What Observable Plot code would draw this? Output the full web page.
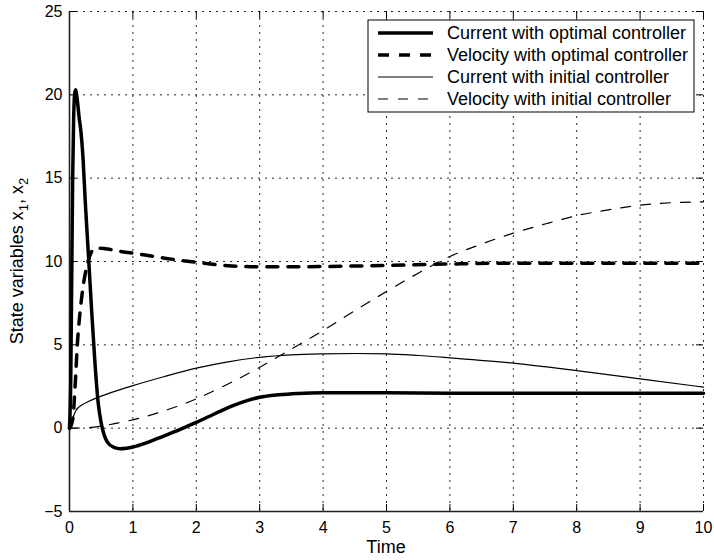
<!DOCTYPE html>
<html><head><meta charset="utf-8">
<script src="https://cdn.jsdelivr.net/npm/d3@7"></script>
<script src="https://cdn.jsdelivr.net/npm/@observablehq/plot@0.6"></script>
<style>
body{margin:0;background:#fff;}
#chart svg{display:block;}
</style></head><body><div id="chart"></div>
<script>
// ---- data ----
const timeCurOpt = [0, 0.02, 0.035, 0.05, 0.065, 0.08, 0.095, 0.12, 0.15, 0.18, 0.21, 0.25, 0.3, 0.35, 0.4, 0.45, 0.5, 0.55, 0.6, 0.7, 0.8, 0.9, 1.0, 1.2, 1.4, 1.6, 1.8, 2.0, 2.2, 2.4, 2.6, 2.8, 3.0, 3.3, 3.6, 4.0, 5, 6, 7, 8, 9, 10];
const curOpt     = [0, 3, 9, 15, 18.5, 20, 20.3, 19.8, 18.7, 17.8, 16.4, 13.5, 10.3, 7.0, 4.0, 1.6, 0.3, -0.45, -0.85, -1.15, -1.23, -1.2, -1.13, -0.9, -0.6, -0.3, 0.02, 0.35, 0.7, 1.05, 1.38, 1.65, 1.85, 2.0, 2.08, 2.12, 2.12, 2.1, 2.1, 2.1, 2.1, 2.1];

const timeVelOpt = [0, 0.03, 0.06, 0.08, 0.1, 0.12, 0.15, 0.2, 0.25, 0.3, 0.35, 0.4, 0.5, 0.6, 0.8, 1.0, 1.5, 2.0, 2.5, 3.0, 3.5, 4, 5, 6, 7, 8, 9, 10];
const velOpt     = [0, 0.2, 0.8, 2.0, 3.3, 4.8, 6.3, 8.1, 9.3, 10.1, 10.6, 10.8, 10.8, 10.75, 10.6, 10.5, 10.2, 9.95, 9.75, 9.68, 9.68, 9.7, 9.76, 9.85, 9.9, 9.9, 9.9, 9.9];

const timeCurIni = [0, 0.02, 0.05, 0.1, 0.2, 0.3, 0.4, 0.5, 0.75, 1, 1.5, 2, 2.5, 3, 3.5, 4, 4.5, 5, 5.5, 6, 7, 8, 9, 10];
const curIni     = [0, 0.3, 0.6, 1.05, 1.4, 1.6, 1.77, 1.92, 2.25, 2.55, 3.1, 3.6, 3.98, 4.25, 4.4, 4.46, 4.48, 4.46, 4.36, 4.22, 3.9, 3.45, 2.96, 2.46];

const timeVelIni = [0, 0.25, 0.5, 0.75, 1, 1.25, 1.5, 1.75, 2, 2.5, 3, 3.5, 4, 4.5, 5, 5.5, 6, 6.5, 7, 7.5, 8, 8.5, 9, 9.5, 10];
const velIni     = [0, 0.02, 0.12, 0.3, 0.5, 0.75, 1.05, 1.38, 1.76, 2.65, 3.65, 4.75, 5.86, 7.05, 8.2, 9.3, 10.3, 11.05, 11.7, 12.25, 12.75, 13.1, 13.38, 13.53, 13.58];

const xTicks = [0, 1, 2, 3, 4, 5, 6, 7, 8, 9, 10];
const yTicks = [-5, 0, 5, 10, 15, 20, 25];
const seriesNames = ["Current with optimal controller", "Velocity with optimal controller", "Current with initial controller", "Velocity with initial controller"];
const xLabel = "Time";

// ---- styles ----
const W = 714, H = 560, ML = 69, MR = 11, MT = 11, MB = 49;
const FW = W - ML - MR, FH = H - MT - MB, TICK = 7;
const FONT = "'Liberation Sans', Arial, Helvetica, sans-serif";
const styles = [
  {strokeWidth: 3.5, dash: null},
  {strokeWidth: 3.5, dash: "11,10"},
  {strokeWidth: 1.2, dash: null},
  {strokeWidth: 1.2, dash: "10,10"}
];
const rows = (ts, vs) => ts.map((t, i) => ({t, v: vs[i]}));
const series = [rows(timeCurOpt, curOpt), rows(timeVelOpt, velOpt), rows(timeCurIni, curIni), rows(timeVelIni, velIni)];
const gridStyle = {stroke: "#000", strokeOpacity: 0.85, strokeWidth: 1, strokeDasharray: "2,5"};

const chart = Plot.plot({
  width: W, height: H,
  marginLeft: ML, marginRight: MR, marginTop: MT, marginBottom: MB,
  style: {fontFamily: FONT, fontSize: "16px", background: "#fff", color: "#000", overflow: "visible"},
  x: {domain: [0, 10]},
  y: {domain: [-5, 25]},
  marks: [
    Plot.gridX(xTicks.slice(1), gridStyle),
    Plot.gridY(yTicks.slice(1), gridStyle),
    Plot.tickX(xTicks, {x: d => d, stroke: "#000", insetTop: FH - TICK}),
    Plot.tickX(xTicks, {x: d => d, stroke: "#000", insetBottom: FH - TICK}),
    Plot.tickY(yTicks, {y: d => d, stroke: "#000", insetRight: FW - TICK}),
    Plot.tickY(yTicks, {y: d => d, stroke: "#000", insetLeft: FW - TICK}),
    Plot.ruleX([0], {stroke: "#222", strokeWidth: 1.6}),
    Plot.ruleY([-5], {stroke: "#222", strokeWidth: 1.6}),
    ...series.map((s, i) => Plot.line(s, {
      x: "t", y: "v", stroke: "#000", strokeWidth: styles[i].strokeWidth,
      strokeDasharray: styles[i].dash, curve: "monotone-x", strokeLinejoin: "round"
    })),
    Plot.axisX({ticks: xTicks, tickSize: 0, tickPadding: 10, label: null, fontSize: 16}),
    Plot.axisY({ticks: yTicks, tickSize: 0, tickPadding: 7, label: null, fontSize: 16})
  ]
});
document.getElementById("chart").appendChild(chart);

// ---- labels and legend ----
const svg = d3.select(chart);
svg.append("text").attr("x", ML + FW / 2).attr("y", 553).attr("text-anchor", "middle")
  .attr("font-family", FONT).attr("font-size", 18).attr("fill", "#000").text(xLabel);

const yl = svg.append("text").attr("transform", `translate(23,${MT + FH / 2}) rotate(-90)`)
  .attr("text-anchor", "middle").attr("font-family", FONT).attr("font-size", 18).attr("fill", "#000");
yl.append("tspan").text("State variables x");
yl.append("tspan").attr("dy", 5).attr("font-size", 13).text("1");
yl.append("tspan").attr("dy", -5).text(", x");
yl.append("tspan").attr("dy", 5).attr("font-size", 13).text("2");

const lg = svg.append("g").attr("text-anchor", "start");
const LX = 368, LY = 20, LW = 326, LH = 92;
lg.append("rect").attr("x", LX).attr("y", LY).attr("width", LW).attr("height", LH)
  .attr("fill", "#fff").attr("stroke", "#000").attr("stroke-width", 1);
seriesNames.forEach((name, i) => {
  const cy = LY + 13 + i * 22;
  lg.append("line").attr("x1", LX + 10).attr("x2", LX + 65).attr("y1", cy).attr("y2", cy)
    .attr("stroke", "#000").attr("stroke-width", styles[i].strokeWidth)
    .attr("stroke-dasharray", styles[i].dash);
  lg.append("text").attr("x", LX + 79).attr("y", cy + 6).attr("text-anchor", "start")
    .attr("font-family", FONT).attr("font-size", 18).attr("fill", "#000").text(name);
});
</script>
</body></html>
